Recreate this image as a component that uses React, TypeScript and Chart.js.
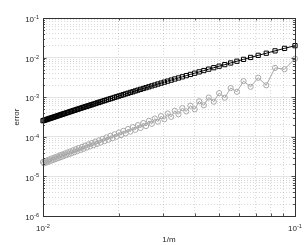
import React, { useEffect, useRef } from "react";
import { Chart, registerables } from "chart.js";

Chart.register(...registerables);

// m = 10 .. 100, x = 1/m
const mValues = [
  10, 11, 12, 13, 14, 15, 16, 17, 18, 19, 20, 21, 22, 23, 24, 25, 26, 27, 28, 29,
  30, 31, 32, 33, 34, 35, 36, 37, 38, 39, 40, 41, 42, 43, 44, 45, 46, 47, 48, 49,
  50, 51, 52, 53, 54, 55, 56, 57, 58, 59, 60, 61, 62, 63, 64, 65, 66, 67, 68, 69,
  70, 71, 72, 73, 74, 75, 76, 77, 78, 79, 80, 81, 82, 83, 84, 85, 86, 87, 88, 89,
  90, 91, 92, 93, 94, 95, 96, 97, 98, 99, 100,
];

// black squares
const errorSquares = [
  2.0e-2, 1.71e-2, 1.48e-2, 1.29e-2, 1.14e-2, 1.01e-2, 9.02e-3, 8.1e-3, 7.32e-3, 6.65e-3,
  6.07e-3, 5.56e-3, 5.11e-3, 4.71e-3, 4.36e-3, 4.04e-3, 3.76e-3, 3.5e-3, 3.27e-3, 3.06e-3,
  2.88e-3, 2.7e-3, 2.55e-3, 2.4e-3, 2.27e-3, 2.15e-3, 2.03e-3, 1.93e-3, 1.83e-3, 1.74e-3,
  1.66e-3, 1.58e-3, 1.51e-3, 1.44e-3, 1.37e-3, 1.32e-3, 1.26e-3, 1.21e-3, 1.16e-3, 1.11e-3,
  1.07e-3, 1.03e-3, 9.87e-4, 9.5e-4, 9.15e-4, 8.82e-4, 8.51e-4, 8.21e-4, 7.93e-4, 7.65e-4,
  7.4e-4, 7.16e-4, 6.92e-4, 6.7e-4, 6.48e-4, 6.28e-4, 6.09e-4, 5.9e-4, 5.73e-4, 5.56e-4,
  5.39e-4, 5.24e-4, 5.09e-4, 4.95e-4, 4.81e-4, 4.68e-4, 4.55e-4, 4.43e-4, 4.31e-4, 4.2e-4,
  4.09e-4, 3.98e-4, 3.88e-4, 3.78e-4, 3.69e-4, 3.6e-4, 3.51e-4, 3.43e-4, 3.34e-4, 3.26e-4,
  3.19e-4, 3.11e-4, 3.04e-4, 2.97e-4, 2.91e-4, 2.84e-4, 2.78e-4, 2.72e-4, 2.66e-4, 2.6e-4,
  2.55e-4,
];

// grey circles
const errorCircles = [
  9.4e-3, 5.1e-3, 5.5e-3, 2.0e-3, 3.1e-3, 1.83e-3, 2.55e-3, 1.37e-3, 1.7e-3, 9.7e-4,
  1.27e-3, 7.7e-4, 9.8e-4, 6.25e-4, 7.9e-4, 4.95e-4, 6.1e-4, 4.37e-4, 5.3e-4, 3.7e-4,
  4.54e-4, 3.19e-4, 3.88e-4, 2.76e-4, 3.33e-4, 2.41e-4, 2.89e-4, 2.12e-4, 2.53e-4, 1.87e-4,
  2.23e-4, 1.67e-4, 1.97e-4, 1.5e-4, 1.75e-4, 1.35e-4, 1.57e-4, 1.22e-4, 1.41e-4, 1.1e-4,
  1.28e-4, 1.01e-4, 1.16e-4, 9.21e-5, 1.06e-4, 8.44e-5, 9.68e-5, 7.77e-5, 8.88e-5, 7.17e-5,
  8.14e-5, 6.63e-5, 7.53e-5, 6.15e-5, 6.96e-5, 5.72e-5, 6.45e-5, 5.33e-5, 5.99e-5, 4.97e-5,
  5.58e-5, 4.65e-5, 5.2e-5, 4.36e-5, 4.87e-5, 4.09e-5, 4.56e-5, 3.84e-5, 4.27e-5, 3.62e-5,
  4.01e-5, 3.42e-5, 3.78e-5, 3.23e-5, 3.56e-5, 3.05e-5, 3.36e-5, 2.89e-5, 3.17e-5, 2.74e-5,
  3.0e-5, 2.6e-5, 2.85e-5, 2.48e-5, 2.7e-5, 2.35e-5, 2.56e-5, 2.24e-5, 2.43e-5, 2.14e-5,
  2.31e-5,
];

const xTickValues = [0.01, 0.02, 0.03, 0.04, 0.05, 0.06, 0.07, 0.08, 0.09, 0.1];
const xDecadeExponents = [-2, -1];
const yDecadeExponents = [-6, -5, -4, -3, -2, -1];
const minorMantissas = [1, 2, 3, 4, 5, 6, 7, 8, 9];

const yTickValues: number[] = [];
for (const e of yDecadeExponents.slice(0, -1)) {
  for (const k of minorMantissas) yTickValues.push(Number((k * Math.pow(10, e)).toPrecision(3)));
}
yTickValues.push(0.1);

const FONT = "'Liberation Sans', Arial, Helvetica, sans-serif";
const TEXT = "#262626";
const MAJOR_GRID = "#e4e4e4";
const MINOR_GRID = "rgba(0,0,0,0.15)";

function isDecade(v: number) {
  const l = Math.log10(v);
  return Math.abs(l - Math.round(l)) < 1e-6;
}

const framePlugin = {
  id: "matlabFrame",
  afterDraw(chart: any) {
    const { ctx, chartArea: a } = chart;
    const xs = chart.scales.x;
    const ys = chart.scales.y;
    ctx.save();
    // inward tick marks
    ctx.strokeStyle = TEXT;
    ctx.lineWidth = 0.8;
    ctx.beginPath();
    for (const v of xTickValues) {
      const px = Math.round(xs.getPixelForValue(v)) + 0.5;
      const len = isDecade(v) ? 3.5 : 2.5;
      ctx.moveTo(px, a.bottom);
      ctx.lineTo(px, a.bottom - len);
      ctx.moveTo(px, a.top);
      ctx.lineTo(px, a.top + len);
    }
    for (const v of yTickValues) {
      const py = Math.round(ys.getPixelForValue(v)) + 0.5;
      const len = isDecade(v) ? 3.5 : 2;
      ctx.moveTo(a.left, py);
      ctx.lineTo(a.left + len, py);
      ctx.moveTo(a.right, py);
      ctx.lineTo(a.right - len, py);
    }
    ctx.stroke();
    // box
    ctx.lineWidth = 1;
    ctx.strokeStyle = "#333333";
    const l = Math.round(a.left) + 0.5;
    const t = Math.round(a.top) + 0.5;
    const r = Math.round(a.right) + 0.5;
    const b = Math.round(a.bottom) + 0.5;
    ctx.strokeRect(l, t, r - l, b - t);

    // tick labels 10^n
    const base = `8px ${FONT}`;
    const sup = `5.6px ${FONT}`;
    ctx.fillStyle = TEXT;
    ctx.textAlign = "left";
    ctx.textBaseline = "alphabetic";
    for (const e of yDecadeExponents) {
      const py = ys.getPixelForValue(Math.pow(10, e));
      const es = String(e);
      ctx.font = base;
      const w1 = ctx.measureText("10").width;
      ctx.font = sup;
      const w2 = ctx.measureText(es).width;
      const x0 = a.left - 4 - w1 - w2;
      ctx.font = base;
      ctx.fillText("10", x0, py + 4.2);
      ctx.font = sup;
      ctx.fillText(es, x0 + w1, py + 0.9);
    }
    for (const e of xDecadeExponents) {
      const px = xs.getPixelForValue(Math.pow(10, e));
      const es = String(e);
      ctx.font = base;
      const w1 = ctx.measureText("10").width;
      ctx.font = sup;
      const w2 = ctx.measureText(es).width;
      const x0 = px - (w1 + w2) / 2;
      ctx.font = base;
      ctx.fillText("10", x0, a.bottom + 15.3);
      ctx.font = sup;
      ctx.fillText(es, x0 + w1, a.bottom + 12.2);
    }
    ctx.restore();
  },
};

export default function App() {
  const ref = useRef<HTMLCanvasElement>(null);
  useEffect(() => {
    document.body.style.margin = "0";
    const squares = mValues.map((m, i) => ({ x: 1 / m, y: errorSquares[i] }));
    const circles = mValues.map((m, i) => ({ x: 1 / m, y: errorCircles[i] }));
    const chart = new Chart(ref.current as HTMLCanvasElement, {
      type: "scatter",
      data: {
        datasets: [
          {
            data: squares,
            showLine: true,
            borderColor: "#000000",
            borderWidth: 1,
            pointStyle: "rect",
            pointRadius: 3.0,
            pointBorderWidth: 1,
            pointBorderColor: "#000000",
            pointBackgroundColor: "rgba(0,0,0,0)",
            clip: false as any,
          },
          {
            data: circles,
            showLine: true,
            borderColor: "#a8a8a8",
            borderWidth: 1,
            pointStyle: "circle",
            pointRadius: 2.6,
            pointBorderWidth: 1,
            pointBorderColor: "#a8a8a8",
            pointBackgroundColor: "rgba(0,0,0,0)",
            clip: false as any,
          },
        ],
      },
      options: {
        responsive: false,
        animation: false,
        layout: { padding: { top: 18, right: 10, left: 0, bottom: 0 } },
        plugins: { legend: { display: false }, tooltip: { enabled: false } },
        scales: {
          x: {
            type: "logarithmic",
            position: "bottom",
            min: 0.01,
            max: 0.1,
            afterBuildTicks: (scale: any) => {
              scale.ticks = xTickValues.map((v) => ({ value: v }));
            },
            afterFit: (scale: any) => {
              scale.height = 29;
            },
            ticks: { display: false },
            grid: {
              drawTicks: false,
              lineWidth: 1,
              color: (c: any) => (c.tick && isDecade(c.tick.value) ? MAJOR_GRID : MINOR_GRID),
            },
            border: {
              display: false,
              dash: (c: any) => (c.tick && !isDecade(c.tick.value) ? [1, 2] : []),
            },
            title: {
              display: true,
              text: "1/m",
              color: TEXT,
              font: { family: FONT, size: 8 },
              padding: { top: 0, bottom: 0 },
            },
          },
          y: {
            type: "logarithmic",
            position: "left",
            min: 1e-6,
            max: 0.1,
            afterBuildTicks: (scale: any) => {
              scale.ticks = yTickValues.map((v) => ({ value: v }));
            },
            afterFit: (scale: any) => {
              scale.width = 43;
            },
            ticks: { display: false },
            grid: {
              drawTicks: false,
              lineWidth: 1,
              color: (c: any) => (c.tick && isDecade(c.tick.value) ? MAJOR_GRID : MINOR_GRID),
            },
            border: {
              display: false,
              dash: (c: any) => (c.tick && !isDecade(c.tick.value) ? [1, 2] : []),
            },
            title: {
              display: true,
              text: "error",
              color: TEXT,
              font: { family: FONT, size: 8 },
              padding: { top: 12, bottom: 0 },
            },
          },
        },
      },
      plugins: [framePlugin],
    } as any);
    return () => chart.destroy();
  }, []);
  return (
    <canvas
      ref={ref}
      width={305}
      height={245}
      style={{ display: "block", width: 305, height: 245 }}
    />
  );
}
